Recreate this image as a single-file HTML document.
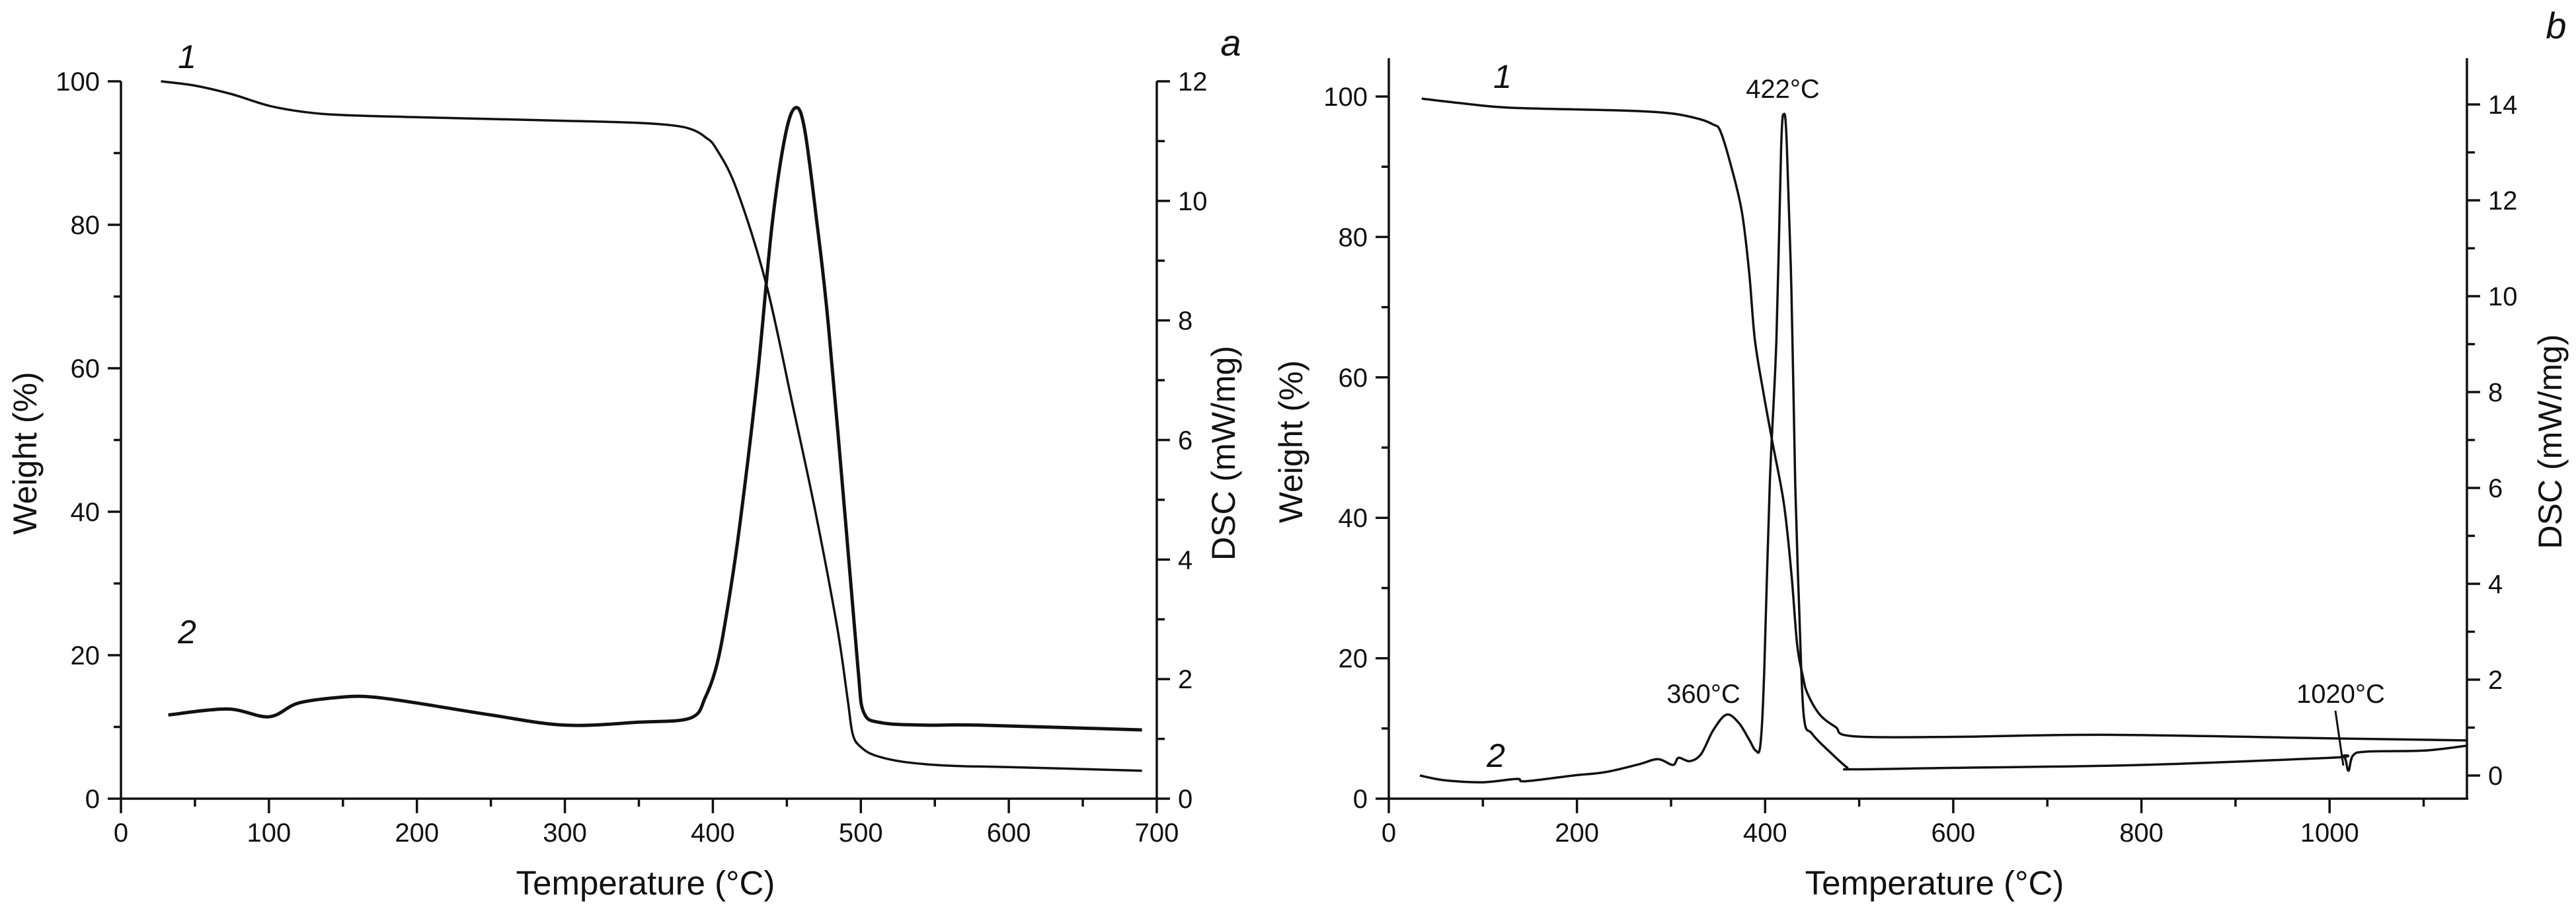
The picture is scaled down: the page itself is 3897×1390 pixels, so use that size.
<!DOCTYPE html>
<html><head><meta charset="utf-8">
<style>
html,body{margin:0;padding:0;background:#fff;}
svg{display:block;}
text{font-family:"Liberation Sans",Arial,sans-serif;fill:#111;}
</style></head>
<body>
<svg id="chart" width="3897" height="1390" viewBox="0 0 3897 1390" xmlns="http://www.w3.org/2000/svg"></svg>
<script>
// ---- Panel a data ----
const aWeightT = [27,50,75,100,125,150,200,300,350,375,387,395,402,416,436,454,469,484,491,494.5,500,510,530,560,600,690];
const aWeightV = [100,99.4,98.2,96.6,95.7,95.3,95,94.5,94.2,93.8,93.2,92.2,90.7,85,71.8,54.8,40.3,23.9,14,9.0,7.2,6.0,5.1,4.6,4.4,3.9];
const aDscT = [32,72,100,120,150,170,200,250,300,350,385,395,403,410,418,430,440,449,456,462,470,478,490,498,502,514,544,580,690];
const aDscV = [1.4,1.5,1.37,1.6,1.7,1.7,1.6,1.4,1.23,1.28,1.35,1.7,2.27,3.2,4.54,7.03,9.6,11.1,11.56,11.2,9.7,7.94,4.54,2.2,1.44,1.27,1.23,1.23,1.15];
const aXTicks = [0,100,200,300,400,500,600,700];
const aYLTicks = [0,20,40,60,80,100];
const aYRTicks = [0,2,4,6,8,10,12];
// ---- Panel b data ----
const bWeightT = [35,80,130,250,300,330,345,352,362,375,383,389,398,408,420,428,434,440,445,458,475,493,600,760,1000,1145];
const bWeightV = [99.7,99,98.4,98,97.6,96.8,96,95.2,91,83.8,75,65.5,58,50.6,42,32,22,17.5,15,12,10.2,8.9,8.8,9.1,8.6,8.3];
const bDscT = [33,60,100,136,145,196,230,265,286,302,308,320,332,345,359,372,383,390,395,399,405,412,417,420,423,428,432,436,441,450,470,487,493,600,800,1000,1015,1020,1025,1040,1100,1145];
const bDscV = [0.0,-0.1,-0.14,-0.07,-0.12,0.0,0.07,0.23,0.34,0.22,0.37,0.3,0.45,0.95,1.27,1.1,0.75,0.52,0.65,2.15,6.1,9.1,13.1,13.8,13.2,10.1,6.1,3.6,1.27,0.87,0.47,0.17,0.13,0.16,0.22,0.37,0.4,0.1,0.42,0.5,0.52,0.62];
const bXTicks = [0,200,400,600,800,1000];
const bYLTicks = [0,20,40,60,80,100];
const bYRTicks = [0,2,4,6,8,10,12,14];

const NS = "http://www.w3.org/2000/svg";
const svg = document.getElementById('chart');
function el(tag, attrs, parent, txt){
  const e = document.createElementNS(NS, tag);
  for (const k in attrs) e.setAttribute(k, attrs[k]);
  if (txt !== undefined) e.textContent = txt;
  (parent || svg).appendChild(e);
  return e;
}
function lin(d0,d1,r0,r1){ return v => r0 + (v-d0)*(r1-r0)/(d1-d0); }
function smooth(pts){
  let d = 'M'+pts[0][0].toFixed(1)+','+pts[0][1].toFixed(1);
  for (let i=0;i<pts.length-1;i++){
    const p0 = pts[Math.max(0,i-1)], p1 = pts[i], p2 = pts[i+1], p3 = pts[Math.min(pts.length-1,i+2)];
    const k = 1/6;
    const c1 = [p1[0]+(p2[0]-p0[0])*k, p1[1]+(p2[1]-p0[1])*k];
    const c2 = [p2[0]-(p3[0]-p1[0])*k, p2[1]-(p3[1]-p1[1])*k];
    d += ' C'+c1[0].toFixed(1)+','+c1[1].toFixed(1)+' '+c2[0].toFixed(1)+','+c2[1].toFixed(1)+' '+p2[0].toFixed(1)+','+p2[1].toFixed(1);
  }
  return d;
}

function panel(cfg){
  const g = el('g', {});
  
  
  const x = lin(cfg.xd[0], cfg.xd[1], cfg.xr[0], cfg.xr[1]);
  const yl = lin(cfg.yld[0], cfg.yld[1], cfg.ylr[0], cfg.ylr[1]);
  const yr = lin(cfg.yrd[0], cfg.yrd[1], cfg.yrr[0], cfg.yrr[1]);
  const L = cfg.xr[0], R = cfg.xr[1], B = cfg.bottom, T = cfg.top;
  const ax = {stroke:'#111','stroke-width':3.5,fill:'none'};
  const xa = el('line', Object.assign({x1:L-2,y1:B,x2:R+2,y2:B}, ax), g);
  
  
  const yla = el('line', Object.assign({x1:L,y1:T,x2:L,y2:B}, ax), g);
  
  
  const yra = el('line', Object.assign({x1:R,y1:T,x2:R,y2:B}, ax), g);
  
  
  const xstep = cfg.xTicks[1]-cfg.xTicks[0];
  for (let v = cfg.xTicks[0]; v <= cfg.xd[1]+0.01; v += xstep/2){
    const major = cfg.xTicks.includes(v);
    el('line', Object.assign({x1:x(v),y1:B,x2:x(v),y2:B+(major?22:12)}, ax), g);
  }
  cfg.xTicks.forEach(v => {
    const t = el('text', {x:x(v), y:B+65, 'font-size':40, 'text-anchor':'middle'}, g, String(v));
    
    
  });
  const ylstep = cfg.ylTicks[1]-cfg.ylTicks[0];
  for (let v = cfg.ylTicks[0]; v <= cfg.ylTicks[cfg.ylTicks.length-1]+0.01; v += ylstep/2){
    const major = cfg.ylTicks.includes(v);
    el('line', Object.assign({x1:L,y1:yl(v),x2:L-(major?20:11),y2:yl(v)}, ax), g);
  }
  cfg.ylTicks.forEach(v => {
    const t = el('text', {x:L-32, y:yl(v)+14, 'font-size':40, 'text-anchor':'end'}, g, String(v));
    
    
  });
  const yrstep = cfg.yrTicks[1]-cfg.yrTicks[0];
  for (let v = cfg.yrTicks[0]; v <= cfg.yrTicks[cfg.yrTicks.length-1]+yrstep/2+0.01; v += yrstep/2){
    const major = cfg.yrTicks.includes(v);
    if (yr(v) < T-1) continue;
    el('line', Object.assign({x1:R,y1:yr(v),x2:R+(major?20:12),y2:yr(v)}, ax), g);
  }
  cfg.yrTicks.forEach(v => {
    const t = el('text', {x:R+32, y:yr(v)+14, 'font-size':40, 'text-anchor':'start'}, g, String(v));
    
    
  });
  const xt = el('text', {x:(L+R)/2+10, y:B+145, 'font-size':51, 'text-anchor':'middle'}, g, 'Temperature (°C)');
  
  
  const ylt = el('text', {x:0, y:0, 'font-size':50, 'text-anchor':'middle', transform:`translate(${cfg.ylTitleX},${(T+B)/2+20}) rotate(-90)`}, g, 'Weight (%)');
  
  
  const yrt = el('text', {x:0, y:0, 'font-size':50, 'text-anchor':'middle', transform:`translate(${cfg.yrTitleX},${(T+B)/2+20}) rotate(-90)`}, g, 'DSC (mW/mg)');
  
  
  const wl = el('path', {d:smooth(cfg.wT.map((t,i)=>[x(t),yl(cfg.wV[i])])), fill:'none', stroke:'#111', 'stroke-width':3.5, 'stroke-linejoin':'round'}, g);
  
  
  const dl = el('path', {d:smooth(cfg.dT.map((t,i)=>[x(t),yr(cfg.dV[i])])), fill:'none', stroke:'#111', 'stroke-width':cfg.dscW, 'stroke-linejoin':'round'}, g);
  
  
  const pl = el('text', {x:cfg.letter[1], y:cfg.letter[2], 'font-size':56, 'font-style':'italic', 'text-anchor':'middle'}, g, cfg.letter[0]);
  
  
  const c1 = el('text', {x:cfg.lab1[0], y:cfg.lab1[1], 'font-size':50, 'font-style':'italic', 'text-anchor':'middle'}, g, '1');
  
  
  const c2 = el('text', {x:cfg.lab2[0], y:cfg.lab2[1], 'font-size':50, 'font-style':'italic', 'text-anchor':'middle'}, g, '2');
  
  
  return {g, x, yl, yr};
}

panel({name:'panel-a', xd:[0,700], xr:[183,1750], bottom:1208, top:123,
  yld:[0,100], ylr:[1208,123], yrd:[0,12], yrr:[1208,123],
  xTicks:aXTicks, ylTicks:aYLTicks, yrTicks:aYRTicks,
  ylTitleX:55, yrTitleX:1868,
  wT:aWeightT, wV:aWeightV, dT:aDscT, dV:aDscV, dscW:5,
  letter:['a',1862,84], lab1:[283,103], lab2:[283,973]});

panel({name:'panel-b', xd:[0,1146], xr:[2101,3732], bottom:1208, top:88,
  yld:[0,100], ylr:[1208,146], yrd:[0,14], yrr:[1173,158],
  xTicks:bXTicks, ylTicks:bYLTicks, yrTicks:bYRTicks,
  ylTitleX:1970, yrTitleX:3875,
  wT:bWeightT, wV:bWeightV, dT:bDscT, dV:bDscV, dscW:3.5,
  letter:['b',3867,58], lab1:[2273,133], lab2:[2263,1160]});

const ann = [['422°C',2697,148,'peak-422-label'],['360°C',2577,1063,'peak-360-label'],['1020°C',3541,1063,'peak-1020-label']];
ann.forEach(a=>{
  const t = el('text', {x:a[1], y:a[2], 'font-size':40, 'text-anchor':'middle'}, svg, a[0]);
  
  
});
const lead = el('line', {x1:3533,y1:1075,x2:3545,y2:1158,stroke:'#111','stroke-width':3});


</script>
</body></html>
